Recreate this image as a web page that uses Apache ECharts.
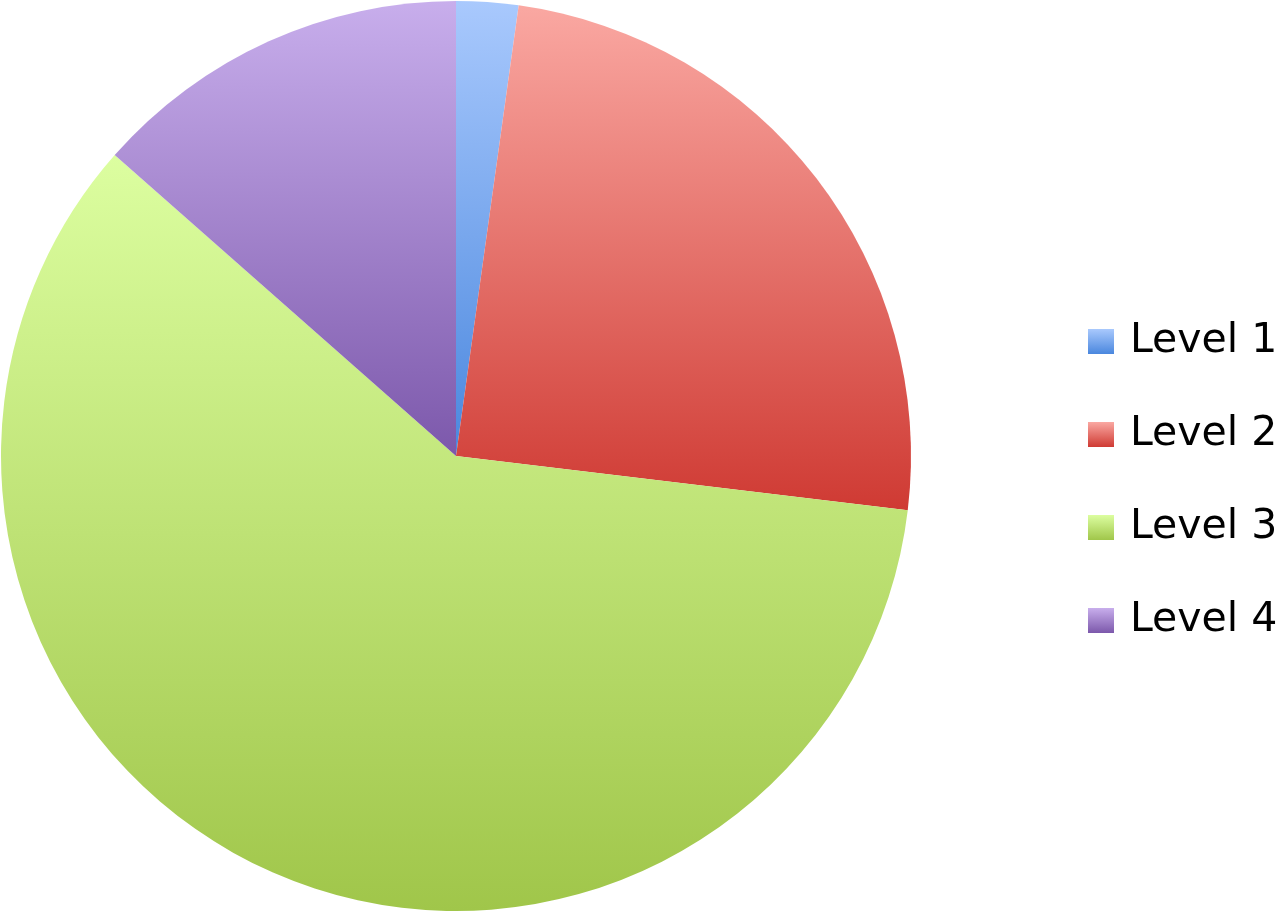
<!DOCTYPE html>
<html>
<head>
<meta charset="utf-8">
<script src="https://cdn.jsdelivr.net/npm/echarts@6/dist/echarts.min.js"></script>
<style>
html,body{margin:0;padding:0;background:#fff;}
#chart{width:1280px;height:913px;}
</style>
</head>
<body>
<div id="chart"></div>
<script>
const categories = ['Level 1', 'Level 2', 'Level 3', 'Level 4'];
const values = [2.2, 24.7, 59.6, 13.5];
const topColors = ['#a9c9fd', '#faa8a2', '#dcfea0', '#c8aeec'];
const bottomColors = ['#4a87de', '#cf3a33', '#a0c64a', '#7c58ab'];

function grad(i) {
  return new echarts.graphic.LinearGradient(0, 0, 0, 1, [
    { offset: 0, color: topColors[i] },
    { offset: 1, color: bottomColors[i] }
  ]);
}

const chart = echarts.init(document.getElementById('chart'), null, { renderer: 'canvas' });
chart.setOption({
  animation: false,
  backgroundColor: '#ffffff',
  legend: {
    orient: 'vertical',
    left: 1083,
    top: 316,
    itemWidth: 26,
    itemHeight: 25,
    itemGap: 52,
    icon: 'rect',
    selectedMode: false,
    textStyle: {
      fontFamily: 'DejaVu Sans',
      fontSize: 41,
      lineHeight: 41,
      color: '#000',
      padding: [0, 0, 0, 11]
    },
    data: categories
  },
  series: [{
    type: 'pie',
    center: [456, 456],
    radius: 455,
    startAngle: 90,
    clockwise: true,
    label: { show: false },
    labelLine: { show: false },
    emphasis: { disabled: true },
    itemStyle: { borderWidth: 0 },
    data: categories.map((c, i) => ({
      name: c,
      value: values[i],
      itemStyle: { color: grad(i) }
    }))
  }]
});
</script>
</body>
</html>
